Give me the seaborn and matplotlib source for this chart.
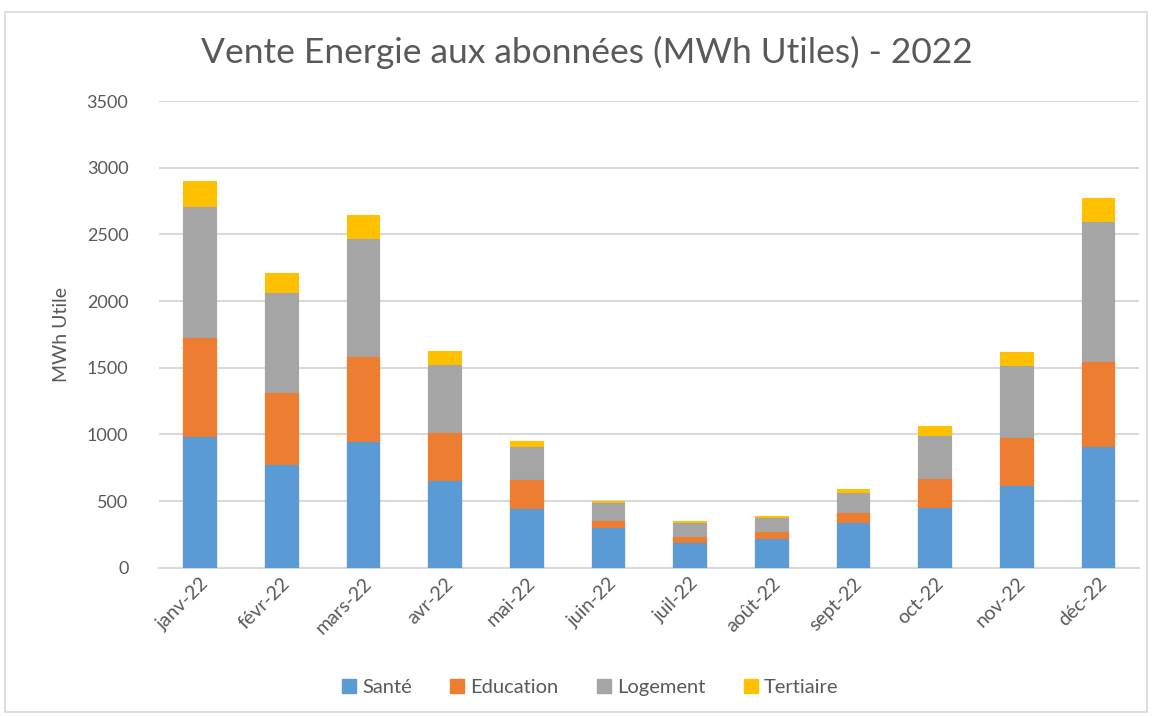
import matplotlib
matplotlib.use("Agg")
import matplotlib.pyplot as plt
import matplotlib.patches as mpatches
import seaborn as sns
import numpy as np
import pandas as pd

mois = ["janv-22", "févr-22", "mars-22", "avr-22", "mai-22", "juin-22",
        "juil-22", "août-22", "sept-22", "oct-22", "nov-22", "déc-22"]
sante = [980, 768, 942, 647, 440, 300, 187, 215, 335, 450, 615, 907]
education = [742, 540, 640, 363, 217, 52, 43, 52, 77, 215, 355, 635]
logement = [980, 753, 885, 512, 245, 135, 105, 103, 148, 322, 545, 1048]
tertiaire = [198, 147, 175, 103, 48, 13, 17, 17, 27, 75, 102, 180]

series = ["Santé", "Education", "Logement", "Tertiaire"]
couleurs = ["#5B9BD5", "#ED7D31", "#A5A5A5", "#FFC000"]

df = pd.DataFrame({"mois": mois, "Santé": sante, "Education": education,
                   "Logement": logement, "Tertiaire": tertiaire})
cumul = df[series].cumsum(axis=1)

sns.set_style("white")
plt.rcParams["font.family"] = ["Lato", "DejaVu Sans"]
txt = "#595959"

fig = plt.figure(figsize=(11.57, 7.16), dpi=100)
ax = fig.add_axes([0.1374, 0.2071, 0.847, 0.6518])

# stacked bars: draw cumulative totals from top series down
for s, c in zip(series[::-1], couleurs[::-1]):
    sns.barplot(x=df["mois"], y=cumul[s], color=c, width=0.4, ax=ax,
                edgecolor=c, linewidth=0.8, saturation=1, zorder=3)

ax.set_ylim(0, 3500)
ax.set_xlim(-0.5, 11.5)
ax.set_yticks(np.arange(0, 3501, 500))
ax.yaxis.grid(True, color="#d9d9d9", linewidth=1.5, zorder=0)
ax.set_axisbelow(True)
for sp in ["top", "right", "left"]:
    ax.spines[sp].set_visible(False)
ax.spines["bottom"].set_color("#d9d9d9")
ax.spines["bottom"].set_linewidth(1.5)
ax.tick_params(axis="y", length=0, labelsize=13, labelcolor=txt, pad=22)
ax.tick_params(axis="x", length=0, labelsize=14, labelcolor=txt, pad=5)
plt.setp(ax.get_xticklabels(), rotation=45, ha="right", rotation_mode="anchor")
ax.set_xlabel("")
ax.set_ylabel("MWh Utile", fontsize=14, color=txt, labelpad=12)

fig.text(0.507, 0.927, "Vente Energie aux abonnées (MWh Utiles) - 2022",
         ha="center", va="center", fontsize=25.5, color=txt)

handles = [mpatches.Patch(color=c, label=s) for s, c in zip(series, couleurs)]
fig.legend(handles=handles, loc="center", bbox_to_anchor=(0.51, 0.04), ncol=4,
           frameon=False, fontsize=14.5, handlelength=0.7, handleheight=0.7,
           handletextpad=0.3, columnspacing=1.9, labelcolor=txt)

fig.patches.append(mpatches.Rectangle((0.004, 0.006), 0.987, 0.977,
                                      transform=fig.transFigure, fill=False,
                                      edgecolor="#d9d9d9", linewidth=1.2))

fig.savefig("out.png", dpi=100)
